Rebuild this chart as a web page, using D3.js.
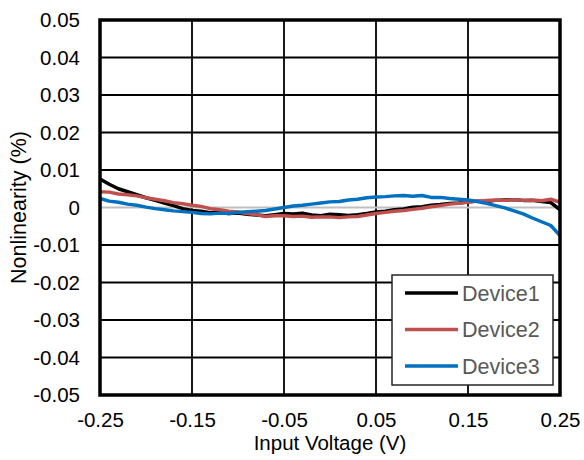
<!DOCTYPE html>
<html><head><meta charset="utf-8">
<script src="https://cdn.jsdelivr.net/npm/d3@7"></script>
<style>body{margin:0;background:#fff;} text{font-family:"Liberation Sans",Arial,sans-serif;}</style>
</head><body><svg id="c" width="584" height="460"></svg>
<script>
const xValues = d3.range(51).map(i => +(-0.25 + i*0.01).toFixed(2));
const device1 = [0.0076,0.0062,0.0050,0.0042,0.0034,0.0026,0.0019,0.0012,0.0005,-0.0003,-0.0008,-0.0010,-0.0014,-0.0012,-0.0016,-0.0015,-0.0018,-0.0020,-0.0022,-0.0019,-0.0016,-0.0017,-0.0015,-0.0020,-0.0022,-0.0018,-0.0019,-0.0021,-0.0019,-0.0016,-0.0012,-0.0010,-0.0006,-0.0004,0.0001,0.0002,0.0006,0.0008,0.0011,0.0012,0.0015,0.0017,0.0016,0.0019,0.0020,0.0021,0.0019,0.0019,0.0016,0.0013,-0.0006];
const device2 = [0.0042,0.0041,0.0036,0.0034,0.0031,0.0026,0.0022,0.0018,0.0013,0.0010,0.0006,0.0003,-0.0003,-0.0006,-0.0010,-0.0012,-0.0016,-0.0019,-0.0024,-0.0022,-0.0022,-0.0024,-0.0023,-0.0026,-0.0025,-0.0025,-0.0027,-0.0025,-0.0024,-0.0020,-0.0016,-0.0013,-0.0010,-0.0008,-0.0005,-0.0002,0.0002,0.0005,0.0009,0.0011,0.0014,0.0017,0.0019,0.0020,0.0019,0.0021,0.0019,0.0020,0.0018,0.0022,0.0014];
const device3 = [0.0024,0.0017,0.0014,0.0009,0.0006,0.0001,-0.0003,-0.0006,-0.0009,-0.0011,-0.0013,-0.0016,-0.0017,-0.0015,-0.0016,-0.0013,-0.0011,-0.0010,-0.0008,-0.0004,0.0000,0.0004,0.0006,0.0009,0.0012,0.0015,0.0016,0.0020,0.0022,0.0026,0.0028,0.0029,0.0031,0.0032,0.0030,0.0032,0.0027,0.0027,0.0024,0.0022,0.0020,0.0016,0.0011,0.0005,-0.0001,-0.0009,-0.0017,-0.0028,-0.0038,-0.0048,-0.0075];
const seriesNames = ["Device1","Device2","Device3"];
const seriesColors = ["#000000","#c0504d","#0070c0"];
const xTicks = [-0.25,-0.15,-0.05,0.05,0.15,0.25];
const yTicks = [0.05,0.04,0.03,0.02,0.01,0,-0.01,-0.02,-0.03,-0.04,-0.05];
const xTitle = "Input Voltage (V)";
const yTitle = "Nonlinearity (%)";

const L=100,R=560,T=20,B=395;
const svg = d3.select("#c");
const x = d3.scaleLinear().domain([-0.25,0.25]).range([L,R]);
const y = d3.scaleLinear().domain([-0.05,0.05]).range([B,T]);
const fmt = d => d===0 ? "0" : d3.format(".2f")(d).replace("\u2212","-");

// gridlines
svg.append("g").selectAll("line").data(xTicks.slice(1,-1)).join("line")
  .attr("x1",d=>x(d)).attr("x2",d=>x(d)).attr("y1",T).attr("y2",B)
  .attr("stroke","#000").attr("stroke-width",1.8);
svg.append("g").selectAll("line").data(yTicks.filter(d=>d!==0 && Math.abs(d)<0.05)).join("line")
  .attr("x1",L).attr("x2",R).attr("y1",d=>y(d)).attr("y2",d=>y(d))
  .attr("stroke","#000").attr("stroke-width",1.8);
svg.append("line").attr("x1",L).attr("x2",R).attr("y1",y(0)).attr("y2",y(0))
  .attr("stroke","#bfbfbf").attr("stroke-width",2);

// axes labels via d3 axes
const xAxis = svg.append("g").attr("transform",`translate(0,${B})`)
  .call(d3.axisBottom(x).tickValues(xTicks).tickSize(0).tickPadding(17).tickFormat(fmt));
xAxis.select(".domain").remove();
xAxis.selectAll("text").attr("font-size",20.5).attr("fill","#000").attr("font-family","Liberation Sans, Arial, sans-serif");
const yAxis = svg.append("g").attr("transform",`translate(${L},0)`)
  .call(d3.axisLeft(y).tickValues(yTicks).tickSize(0).tickPadding(20).tickFormat(fmt));
yAxis.select(".domain").remove();
yAxis.selectAll("text").attr("font-size",20.5).attr("fill","#000").attr("font-family","Liberation Sans, Arial, sans-serif");

// lines
const line = d3.line().x((d,i)=>x(xValues[i])).y(d=>y(d));
[device1,device2,device3].forEach((s,k)=>{
  svg.append("path").datum(s).attr("d",line).attr("fill","none")
    .attr("stroke",seriesColors[k]).attr("stroke-width",3.5).attr("stroke-linejoin","round");
});

// border
svg.append("rect").attr("x",L).attr("y",T).attr("width",R-L).attr("height",B-T)
  .attr("fill","none").attr("stroke","#000").attr("stroke-width",3.5);

// legend
const lg = svg.append("g");
lg.append("rect").attr("x",392).attr("y",275).attr("width",161).attr("height",110)
  .attr("fill","#fff").attr("stroke","#262626").attr("stroke-width",1.5);
seriesNames.forEach((n,k)=>{
  const yy = 293 + k*36.5;
  lg.append("line").attr("x1",405).attr("x2",458).attr("y1",yy).attr("y2",yy)
    .attr("stroke",seriesColors[k]).attr("stroke-width",3.5);
  lg.append("text").attr("x",462).attr("y",yy).attr("dy","0.35em").attr("font-size",21.5)
    .attr("fill","#595959").text(n);
});

// titles
svg.append("text").attr("x",330).attr("y",449.5).attr("text-anchor","middle")
  .attr("font-size",20.5).attr("fill","#000").text(xTitle);
svg.append("text").attr("transform",`translate(18,${(T+B)/2}) rotate(-90)`).attr("dy","0.35em")
  .attr("text-anchor","middle").attr("font-size",21.5).attr("fill","#000").text(yTitle);
</script></body></html>
